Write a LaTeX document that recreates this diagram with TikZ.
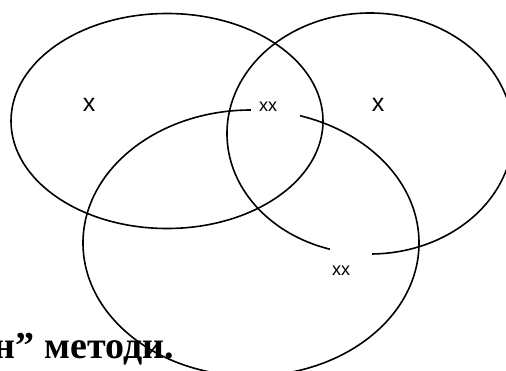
\documentclass[tikz,border=0pt]{standalone}
\usepackage{fontspec}
\setmainfont{Liberation Sans}
\newfontfamily\serifbold{Liberation Serif}
\begin{document}
\begin{tikzpicture}[x=1pt,y=-1pt,
  ring/.style={draw=black,line width=1.6pt},
  bigx/.style={font=\fontsize{25}{29}\selectfont,inner sep=0pt},
  smallx/.style={font=\fontsize{18}{21}\selectfont,inner sep=0pt},
  mask/.style={fill=white,draw=none,inner sep=0pt}]
\useasboundingbox (0,0) rectangle (506,371);
\draw[ring] (167,121) ellipse [x radius=156, y radius=107.5];
\draw[ring] (370,133.5) ellipse [x radius=143, y radius=120.5];
\draw[ring] (251,243) ellipse [x radius=168, y radius=133];
\node[mask,minimum width=49pt,minimum height=22pt] (m1) at (275.5,108) {};
\node[mask,minimum width=42pt,minimum height=40pt] (m2) at (351,262) {};
\node[bigx] (xl) at (89,105) {x};
\node[bigx] (xr) at (378,105) {x};
\node[smallx] (xm) at (268,107) {xx};
\node[smallx] (xb) at (341,271) {xx};
\node[inner sep=0pt,anchor=base east,font=\serifbold\bfseries\fontsize{38}{42}\selectfont] (t) at (174,358) {н” методи.};
\end{tikzpicture}
\end{document}
